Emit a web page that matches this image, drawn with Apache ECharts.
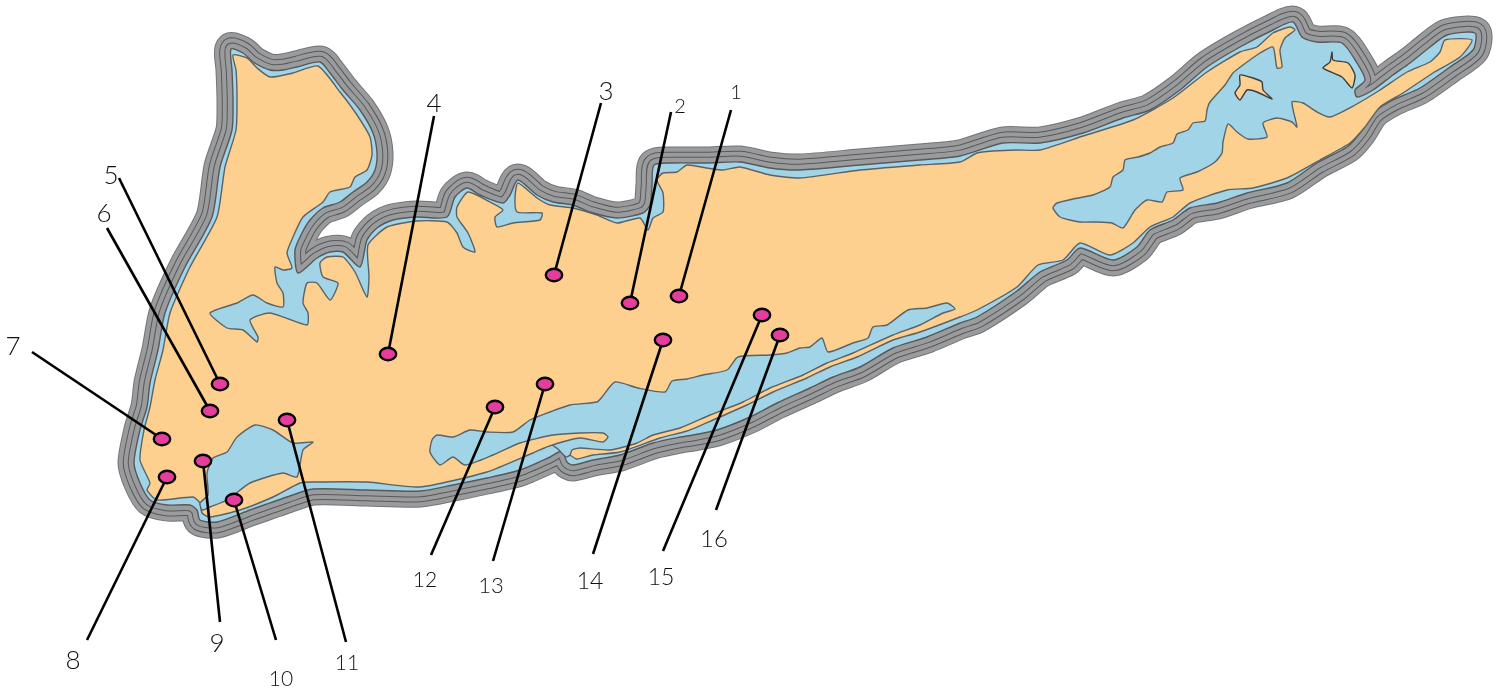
<!DOCTYPE html>
<html><head><meta charset="utf-8">
<style>html,body{margin:0;padding:0;background:#fff}#c{width:1500px;height:688px}</style>
<script src="https://cdn.jsdelivr.net/npm/echarts@6/dist/echarts.min.js"></script>
</head><body><div id="c"></div>
<script>
// Island outline: boundary between the grey coastal bands and the water
const shoreline=[[231,49],[243,53],[253,62],[270,70],[283,70],[297,67],[320,62],[330,73],[343,90],[360,110],[373,133],[377,153],[375,170],[367,182],[353,192],[340,202],[323,208],[310,220],[302,233],[295,250],[298,273],[317,258],[330,252],[343,252],[360,267],[367,240],[377,228],[393,220],[417,217],[447,217],[455,197],[467,188],[480,195],[503,203],[510,195],[518,180],[537,195],[553,202],[573,205],[590,212],[617,218],[643,213],[650,205],[652,185],[654,165],[673,163],[707,163],[740,162],[770,168],[800,170],[860,165],[920,160],[960,156],[1003,143],[1040,143],[1083,133],[1123,118],[1150,110],[1180,90],[1207,67],[1240,47],[1273,30],[1293,22],[1302,37],[1317,42],[1342,43],[1357,63],[1365,80],[1355,90],[1357,97],[1373,90],[1393,75],[1410,63],[1430,47],[1447,35],[1475,33],[1473,50],[1450,67],[1420,88],[1393,100],[1373,113],[1360,133],[1347,147],[1317,163],[1287,183],[1247,193],[1217,203],[1190,208],[1173,220],[1150,230],[1137,247],[1113,260],[1080,248],[1067,260],[1040,272],[1017,291],[977,317],[960,323],[927,337],[893,348],[860,367],[833,377],[810,388],[777,403],[750,417],[717,430],[693,435],[680,437],[653,443],[620,455],[593,460],[573,465],[567,462],[562,451],[550,457],[520,470],[487,478],[453,485],[420,491],[367,490],[313,489],[287,497],[250,510],[217,522],[200,520],[197,510],[190,505],[167,505],[150,500],[140,483],[134,463],[140,430],[147,407],[150,383],[158,350],[165,313],[185,267],[212,217],[220,167],[232,130],[233,100],[232,70]];
// Land, following every bay that opens onto the shoreline
const land=[[233,55],[247,58],[257,68],[270,77],[293,73],[318,66],[340,92],[357,115],[370,137],[372,155],[367,170],[355,177],[350,187],[330,192],[323,202],[303,217],[293,237],[287,253],[292,268],[283,270],[275,267],[277,283],[283,293],[283,307],[267,303],[253,295],[237,303],[210,313],[227,328],[243,330],[257,342],[258,337],[250,320],[270,313],[307,325],[308,313],[303,303],[307,283],[317,283],[330,300],[338,283],[323,277],[320,263],[327,257],[343,257],[355,272],[367,297],[369,277],[368,245],[387,227],[417,221],[447,222],[457,233],[463,247],[475,252],[468,233],[457,217],[457,207],[468,192],[490,202],[503,210],[495,217],[497,227],[513,223],[540,220],[542,213],[517,212],[515,197],[518,183],[537,198],[550,205],[573,208],[597,215],[617,223],[640,218],[648,230],[653,218],[663,212],[663,193],[657,180],[663,173],[677,172],[687,165],[707,168],[723,170],[740,167],[770,175],[800,178],[860,170],[920,165],[960,162],[977,153],[993,151],[1017,150],[1040,150],[1083,136],[1133,120],[1173,98],[1207,72],[1240,52],[1257,47],[1273,33],[1290,27],[1295,30],[1285,38],[1280,50],[1282,67],[1277,68],[1273,47],[1260,53],[1243,65],[1233,73],[1225,85],[1210,102],[1207,110],[1205,121],[1193,123],[1188,130],[1177,134],[1173,143],[1160,147],[1150,153],[1138,157],[1125,160],[1123,170],[1113,177],[1110,187],[1093,195],[1073,199],[1057,203],[1053,208],[1060,217],[1080,222],[1097,222],[1112,223],[1123,228],[1135,210],[1147,200],[1162,202],[1167,192],[1183,190],[1180,178],[1197,172],[1215,162],[1222,153],[1223,142],[1228,124],[1237,132],[1248,139],[1267,137],[1263,123],[1277,118],[1292,122],[1297,127],[1292,102],[1303,103],[1317,112],[1330,117],[1355,105],[1380,90],[1407,72],[1430,62],[1440,52],[1445,40],[1472,40],[1460,57],[1433,73],[1403,93],[1380,107],[1365,127],[1350,143],[1320,160],[1287,178],[1253,188],[1227,190],[1190,203],[1173,217],[1150,227],[1133,243],[1110,255],[1080,243],[1063,260],[1038,265],[1017,287],[977,310],[960,317],[920,332],[893,340],[857,357],[830,367],[807,378],[773,392],[747,405],[713,420],[687,431],[660,438],[620,452],[593,455],[577,459],[570,455],[565,450],[553,445],[533,453],[487,472],[420,487],[367,482],[313,482],[300,483],[273,497],[240,510],[210,517],[202,513],[200,503],[193,497],[157,500],[147,490],[150,483],[140,460],[144,430],[150,407],[155,380],[163,350],[170,313],[190,267],[217,217],[225,167],[236,130],[237,100],[236,70]];
// Enclosed water bodies
const greatSouthBay=[[432,440],[437,435],[453,437],[470,430],[487,432],[513,432],[530,420],[550,412],[570,405],[597,402],[602,397],[615,382],[638,388],[665,392],[672,381],[687,379],[703,375],[727,370],[738,357],[770,355],[787,353],[800,348],[810,347],[822,338],[828,352],[853,343],[868,338],[873,327],[887,325],[908,310],[927,308],[947,303],[955,309],[943,313],[920,325],[893,335],[853,353],[827,363],[803,375],[770,388],[743,402],[710,415],[680,428],[653,435],[637,443],[610,450],[580,448],[572,450],[570,455],[566,457],[558,449],[553,445],[580,438],[603,442],[608,437],[603,433],[580,433],[553,435],[520,443],[493,455],[465,465],[453,457],[440,465],[430,452]];
const jamaicaBay=[[213,458],[227,452],[237,437],[255,425],[273,430],[293,443],[313,442],[303,450],[297,477],[283,473],[250,483],[227,500],[210,507],[202,510],[200,503],[208,495],[207,473]];
// Islands inside the eastern bay
const robinsIsland=[[1240,75],[1253,78],[1262,82],[1263,90],[1272,99],[1257,92],[1247,90],[1240,100],[1235,93],[1240,85]];
const shelterIsland=[[1332,52],[1333,60],[1348,63],[1355,75],[1352,88],[1342,77],[1323,68],[1330,62]];
// Numbered sites
const siteNames=['1','2','3','4','5','6','7','8','9','10','11','12','13','14','15','16'];
const siteX=[679,630,554,388,220,210,162,167,203,234,287,495,545,663,762,780];
const siteY=[296,303,275,354,384,411,439,477,461,500,420,407,384,340,315,335];
const leaderX=[731,671,601,434,119,107,32,87,220,276,346,431,493,593,663,716];
const leaderY=[110,112,103,116,178,228,352,640,622,640,642,555,561,554,551,510];
const labelX=[736,680,606,434,111,104,13,73,217,281,347,425,491,590,661,714];
const labelY=[93,107,92,104,176,214,347,661,644,679,663,580,586,582,578,539];

const DARK='#58585a', GREY='#9a9b9d', BLUE='#a2d4e7', ORANGE='#fdd08f', PINK='#e43d9c', EDGE='#5a6268';
const labelSize={'1':20,'2':20,'10':21,'11':21,'12':21,'13':22,'14':23,'15':23,'16':24};

function pts(api,arr){return arr.map(p=>api.coord(p));}
function poly(api,arr,style,smooth){return {type:'polygon',shape:{points:pts(api,arr),smooth:smooth},style:Object.assign({lineJoin:'round'},style)};}

function renderMap(params,api){
  const ch=[];
  [[33,'#747476'],[31,GREY],[22.5,DARK],[20.5,GREY],[12.5,DARK],[10.5,GREY]].forEach(([w,c])=>{
    ch.push(poly(api,shoreline,{fill:c,stroke:c,lineWidth:w},0.25));
  });
  ch.push(poly(api,shoreline,{fill:BLUE,stroke:DARK,lineWidth:1.4},0.25));
  ch.push(poly(api,land,{fill:ORANGE,stroke:EDGE,lineWidth:1.4},0.2));
  ch.push(poly(api,greatSouthBay,{fill:BLUE,stroke:EDGE,lineWidth:1.4},0.2));
  ch.push(poly(api,jamaicaBay,{fill:BLUE,stroke:EDGE,lineWidth:1.4},0.2));
  ch.push(poly(api,robinsIsland,{fill:ORANGE,stroke:'#3c3c3c',lineWidth:1.4},0.2));
  ch.push(poly(api,shelterIsland,{fill:ORANGE,stroke:'#3c3c3c',lineWidth:1.4},0.2));
  return {type:'group',children:ch};
}
function renderLeader(params,api){
  const a=api.coord([api.value(0),api.value(1)]),b=api.coord([api.value(2),api.value(3)]);
  return {type:'line',shape:{x1:a[0],y1:a[1],x2:b[0],y2:b[1]},style:{stroke:'#000',lineWidth:2.6,fill:null}};
}
function renderSite(params,api){
  const c=api.coord([api.value(0),api.value(1)]);
  return {type:'ellipse',shape:{cx:c[0],cy:c[1],rx:8.2,ry:6.2},style:{fill:PINK,stroke:'#000',lineWidth:2.4}};
}
function renderLabel(params,api){
  const c=api.coord([api.value(0),api.value(1)]);
  const name=siteNames[params.dataIndex];
  return {type:'text',x:c[0],y:c[1],style:{text:name,fill:'#111',align:'center',verticalAlign:'middle',
    font:'300 '+(labelSize[name]||26)+'px Lato, sans-serif'}};
}

const chart=echarts.init(document.getElementById('c'),null,{renderer:'canvas'});
chart.setOption({
  animation:false,
  backgroundColor:'#fff',
  grid:{left:0,right:0,top:0,bottom:0},
  xAxis:{type:'value',min:0,max:1500,show:false},
  yAxis:{type:'value',min:0,max:688,inverse:true,show:false},
  tooltip:{show:false},
  series:[
    {type:'custom',renderItem:renderMap,data:[[0,0]],silent:true,clip:false,z:1},
    {type:'custom',renderItem:renderLeader,data:siteX.map((x,i)=>[leaderX[i],leaderY[i],x,siteY[i]]),encode:{x:[0,2],y:[1,3]},silent:true,z:2},
    {type:'custom',renderItem:renderSite,data:siteX.map((x,i)=>[x,siteY[i]]),silent:true,z:3},
    {type:'custom',renderItem:renderLabel,data:labelX.map((x,i)=>[x,labelY[i]]),silent:true,z:4}
  ]
});
</script></body></html>
